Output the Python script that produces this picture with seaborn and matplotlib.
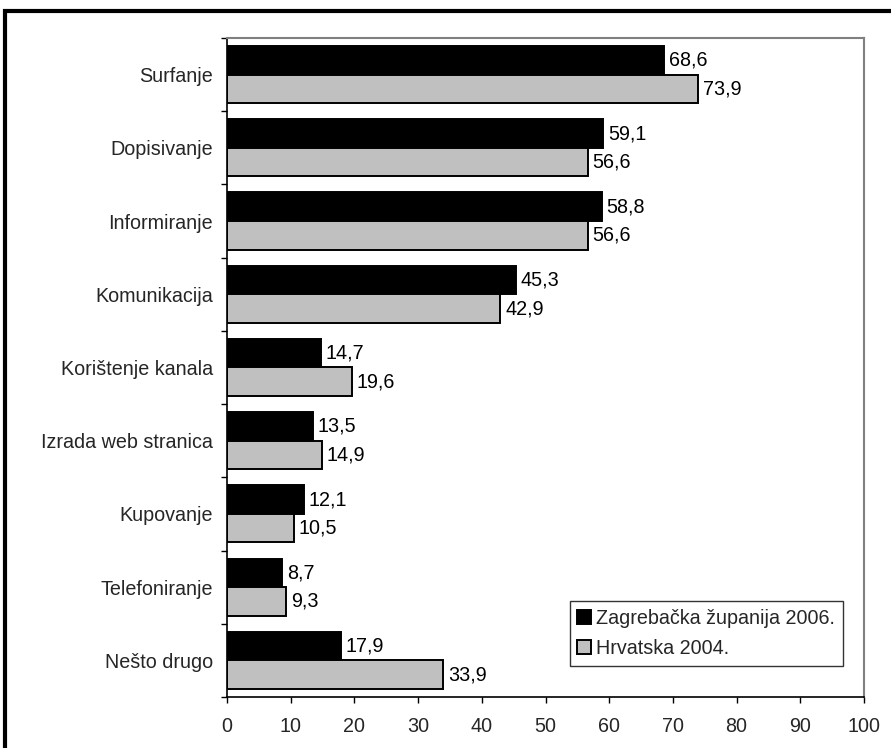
import matplotlib
matplotlib.use("Agg")
import matplotlib.pyplot as plt
from matplotlib.patches import Rectangle, Patch
import seaborn as sns
import pandas as pd

categories = ["Surfanje", "Dopisivanje", "Informiranje", "Komunikacija",
              "Korištenje kanala", "Izrada web stranica", "Kupovanje",
              "Telefoniranje", "Nešto drugo"]
zagreb_2006 = [68.6, 59.1, 58.8, 45.3, 14.7, 13.5, 12.1, 8.7, 17.9]
hrvatska_2004 = [73.9, 56.6, 56.6, 42.9, 19.6, 14.9, 10.5, 9.3, 33.9]
series_names = ["Zagrebačka županija 2006.", "Hrvatska 2004."]
x_ticks = list(range(0, 101, 10))

df = pd.DataFrame({
    "kategorija": categories * 2,
    "vrijednost": zagreb_2006 + hrvatska_2004,
    "serija": [series_names[0]] * len(categories) + [series_names[1]] * len(categories),
})

sns.set_theme(style="white")
plt.rcParams["font.family"] = ["Liberation Sans", "DejaVu Sans"]
FS = 14.2

fig = plt.figure(figsize=(8.91, 7.48), dpi=100)
ax = fig.add_axes([0.2548, 0.0682, 0.7149, 0.8810])

colors = ["#000000", "#c0c0c0"]
sns.barplot(data=df, y="kategorija", x="vrijednost", hue="serija",
            order=categories, hue_order=series_names, palette=colors,
            orient="h", width=0.78, edgecolor="black", linewidth=1.4,
            saturation=1, ax=ax, legend=False)

for container in ax.containers:
    ax.bar_label(container, labels=[f"{v:.1f}".replace(".", ",") for v in container.datavalues],
                 padding=3.5, fontsize=FS, color="black")

ax.set_xlim(0, 100)
ax.set_ylim(len(categories) - 0.5, -0.5)
ax.set_xticks(x_ticks)
ax.set_xticklabels([str(t) for t in x_ticks], fontsize=FS)
ax.set_xlabel("")
ax.set_ylabel("")

# category labels at centres, tick marks at category boundaries
ax.set_yticks(range(len(categories)))
ax.set_yticklabels(categories, fontsize=FS)
ax.set_yticks([i - 0.5 for i in range(len(categories) + 1)], minor=True)
ax.tick_params(axis="y", which="major", length=0, pad=10)
ax.tick_params(axis="y", which="minor", length=4, width=1, color="black", left=True)
ax.tick_params(axis="x", which="major", length=4.5, width=1, color="black", bottom=True, pad=10)

for side in ["left", "bottom"]:
    ax.spines[side].set_color("black")
    ax.spines[side].set_linewidth(1.2)
for side in ["top", "right"]:
    ax.spines[side].set_color("#808080")
    ax.spines[side].set_linewidth(1.5)

handles = [Patch(facecolor=c, edgecolor="black", linewidth=1.4) for c in colors]
leg = ax.legend(handles, series_names, loc="lower right", bbox_to_anchor=(0.967, 0.047),
                fontsize=FS, frameon=True, fancybox=False, handlelength=0.7,
                handleheight=0.7, handletextpad=0.25, borderpad=0.4, labelspacing=0.55,
                borderaxespad=0)
leg.get_frame().set_edgecolor("black")
leg.get_frame().set_linewidth(1.0)

# outer frame: left and top edges visible, the rest runs off the canvas
fig.patches.append(Rectangle((0.0056, -0.2), 1.5, 1.1853, transform=fig.transFigure,
                             fill=False, edgecolor="black", linewidth=3.0))

fig.savefig("out.png", dpi=100)
